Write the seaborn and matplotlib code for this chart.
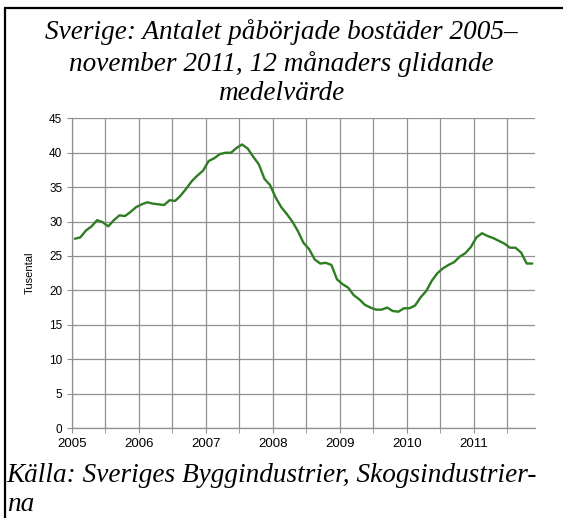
import numpy as np
import pandas as pd
import matplotlib
matplotlib.use("Agg")
import matplotlib.pyplot as plt
import seaborn as sns
from matplotlib.lines import Line2D
from matplotlib.ticker import MultipleLocator

# 12-month moving average, thousands of started dwellings, Jan 2005 - Nov 2011
values = [
    27.5, 27.7, 28.7, 29.3, 30.2, 29.9, 29.3, 30.2, 30.9, 30.8, 31.4, 32.1,   # 2005
    32.5, 32.8, 32.6, 32.5, 32.4, 33.1, 33.0, 33.8, 34.8, 35.9, 36.7, 37.4,   # 2006
    38.8, 39.2, 39.8, 40.0, 40.0, 40.7, 41.2, 40.6, 39.4, 38.3, 36.2, 35.3,   # 2007
    33.5, 32.1, 31.1, 30.0, 28.6, 26.9, 26.0, 24.5, 23.9, 24.0, 23.7, 21.6,   # 2008
    20.9, 20.4, 19.3, 18.7, 17.9, 17.5, 17.2, 17.2, 17.5, 17.0, 16.9, 17.4,   # 2009
    17.4, 17.8, 19.0, 19.9, 21.4, 22.5, 23.2, 23.7, 24.1, 24.9, 25.4, 26.3,   # 2010
    27.7, 28.3, 27.9, 27.6, 27.2, 26.8, 26.2, 26.2, 25.5, 23.9, 23.9,         # 2011
]
years = ["2005", "2006", "2007", "2008", "2009", "2010", "2011"]
y_ticks = list(range(0, 50, 5))

title = "Sverige: Antalet påbörjade bostäder 2005–\nnovember 2011, 12 månaders glidande\nmedelvärde"
source = "Källa: Sveriges Byggindustrier, Skogsindustrier-\nna"

df = pd.DataFrame({"month": np.arange(len(values)) + 0.5, "value": values})

sns.set_style("white")
plt.rcParams['font.family'] = ['Liberation Sans', 'DejaVu Sans']
plt.rcParams['text.color'] = 'black'

fig = plt.figure(figsize=(5.63, 5.18), dpi=100)
ax = fig.add_axes([0.1279, 0.1737, 0.8224, 0.5979])

sns.lineplot(data=df, x="month", y="value", ax=ax, color="#2E7D22", linewidth=1.7)

ax.set_xlim(0, len(values))
ax.set_ylim(0, 45)
ax.set_xticks([12 * i for i in range(len(years))])
ax.set_xticklabels(years)
ax.xaxis.set_minor_locator(MultipleLocator(6))
ax.set_yticks(y_ticks)
ax.grid(True, which="both", color="#8f8f8f", linewidth=0.9)
ax.tick_params(axis="both", which="both", length=3.5, color="#8f8f8f",
               labelcolor="black", direction="out", bottom=True, left=True)
ax.tick_params(axis="x", labelsize=9.5, pad=4)
ax.tick_params(axis="y", labelsize=8.5)
ax.set_xlabel("")
ax.set_ylabel("Tusental", fontsize=8, labelpad=10, color="black")
for s in ["top", "right"]:
    ax.spines[s].set_visible(False)
for s in ["left", "bottom"]:
    ax.spines[s].set_color("#8f8f8f")
    ax.spines[s].set_linewidth(0.9)

fig.text(0.5, 1 - 63 / 518, title, ha="center", va="center", fontsize=19.6,
         family="Liberation Serif", style="italic", linespacing=1.26, color="black")
fig.text(0.012, 1 - 490 / 518, source, ha="left", va="center", fontsize=19.6,
         family="Liberation Serif", style="italic", linespacing=1.26, color="black")

# frame around the figure (top and left edges)
fig.add_artist(Line2D([4.5 / 563, 1.0], [1 - 7.5 / 518] * 2, transform=fig.transFigure,
                      color="black", linewidth=1.6))
fig.add_artist(Line2D([4.5 / 563] * 2, [0.0, 1 - 7.5 / 518], transform=fig.transFigure,
                      color="black", linewidth=1.6))

fig.savefig("out.png", dpi=100)
